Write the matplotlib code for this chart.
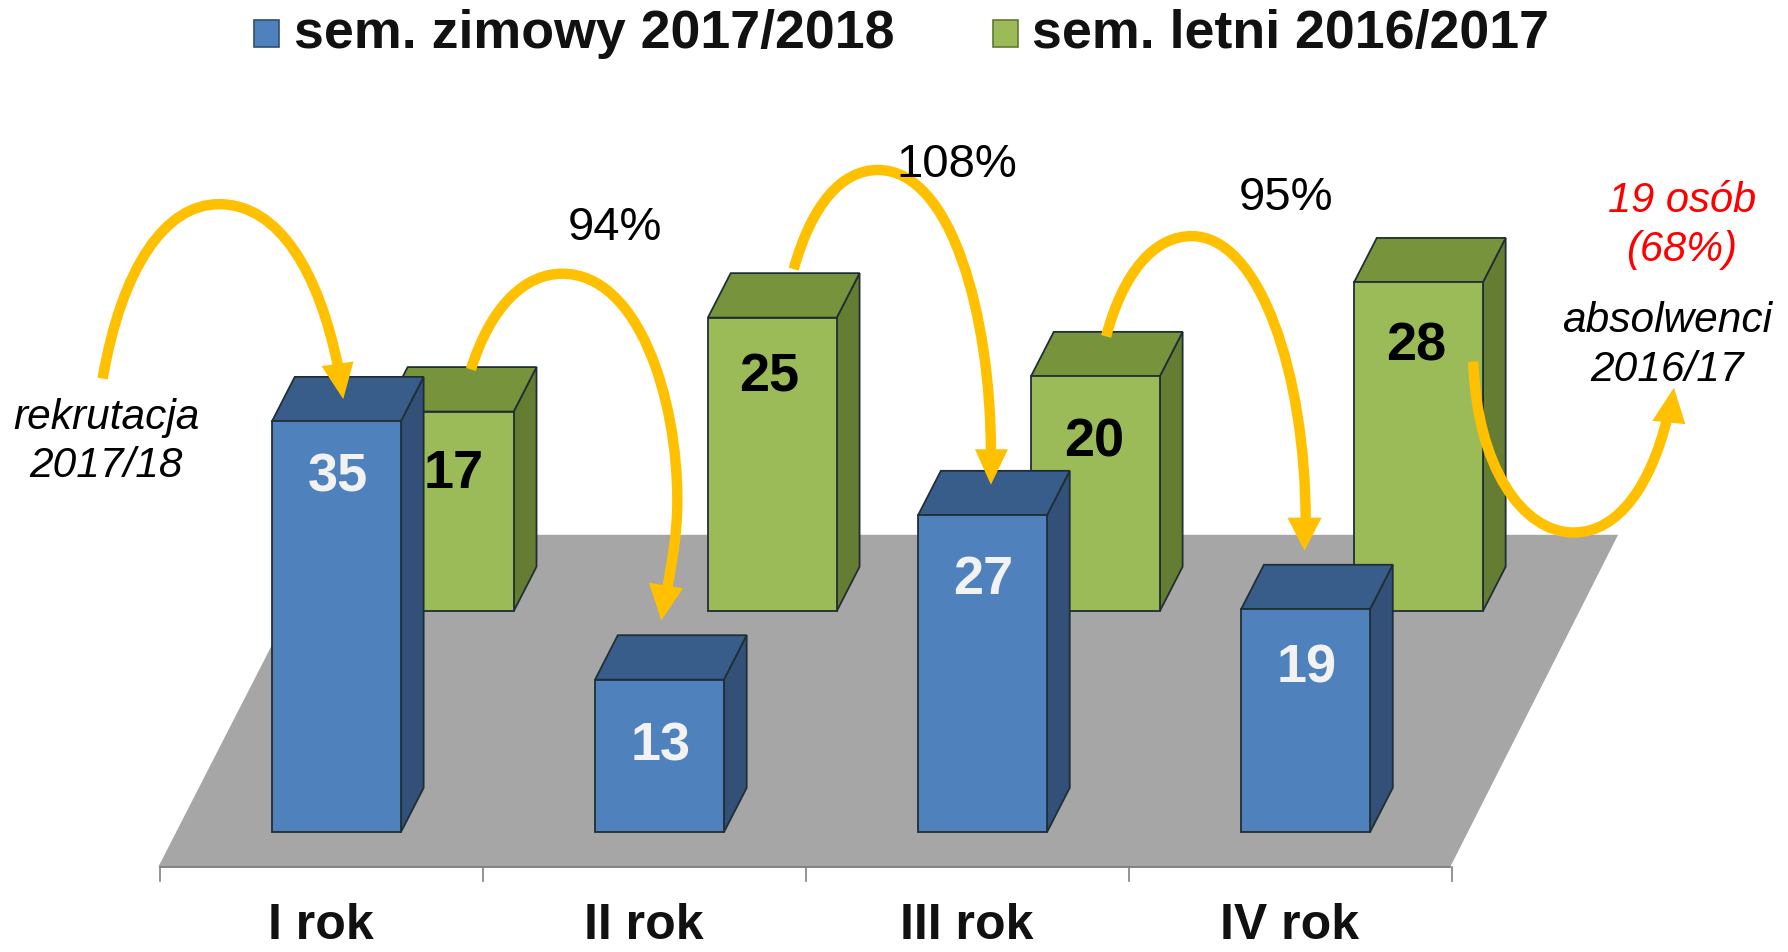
""" 3d style bar chart of students per year, drawn by hand
"""

import matplotlib.pyplot as plt
from matplotlib.patches import PathPatch, Polygon
from matplotlib.path import Path

plt.rcParams['font.family'] = ['Liberation Sans', 'DejaVu Sans']

years = ["I rok", "II rok", "III rok", "IV rok"]
winter = [35, 13, 27, 19]
summer = [17, 25, 20, 28]
winter_name = "sem. zimowy 2017/2018"
summer_name = "sem. letni 2016/2017"
percents = ["94%", "108%", "95%"]

W, H = 1568, 836
PX_PER_UNIT = 10.3
PX_PER_CAT = 283.3
BASE_FRONT = 730
BASE_BACK = 536
X_FRONT = 295
X_BACK = 394
BAR_W = 113
DX, DY = 20, 39

BLUE = ("#4f81bd", "#385d8a", "#325078")
GREEN = ("#9bbb59", "#77933c", "#657d33")
YELLOW = "#ffc000"
EDGE = "#1f2f35"

# label offsets from the bar centre and top, in pixels
winter_dy = [48, 58, 56, 51]
summer_dx = [4, -3, -1, -2]
summer_dy = [54, 52, 57, 55]

fig = plt.figure(figsize=(17.88, 9.53), dpi=100)
ax = fig.add_axes([0, 0, 1, 1])
ax.set_xlim(0, W)
ax.set_ylim(H, 0)
ax.axis("off")

# floor
ax.add_patch(Polygon([(139, 761), (1272, 761), (1419, 470), (288, 470)], fc="#a6a6a6", ec="none", zorder=1))
ax.plot([140, 1272], [761, 761], color="#707070", lw=1.2, zorder=1)
for i in range(5):
    x = 140 + i * PX_PER_CAT
    ax.plot([x, x], [761, 774], color="#808080", lw=1.2, zorder=1)


def bar3d(cx, base, value, cols, zorder):
    left = cx - BAR_W / 2
    right = cx + BAR_W / 2
    top = base - value * PX_PER_UNIT
    ax.add_patch(Polygon([(right, base), (right + DX, base - DY), (right + DX, top - DY), (right, top)],
                         fc=cols[2], ec=EDGE, lw=1.3, zorder=zorder))
    ax.add_patch(Polygon([(left, top), (right, top), (right + DX, top - DY), (left + DX, top - DY)],
                         fc=cols[1], ec=EDGE, lw=1.3, zorder=zorder))
    ax.add_patch(Polygon([(left, base), (right, base), (right, top), (left, top)],
                         fc=cols[0], ec=EDGE, lw=1.3, zorder=zorder))
    return top


for i, v in enumerate(summer):
    cx = X_BACK + i * PX_PER_CAT
    top = bar3d(cx, BASE_BACK + 1, v, GREEN, 2)
    ax.text(cx + summer_dx[i], top + summer_dy[i], str(v), color="black", fontsize=39, fontweight="bold",
            ha="center", va="center", zorder=3)

for i, v in enumerate(winter):
    cx = X_FRONT + i * PX_PER_CAT
    top = bar3d(cx, BASE_FRONT + 1, v, BLUE, 4)
    ax.text(cx + 1, top + winter_dy[i], str(v), color="#f2f2f2", fontsize=39, fontweight="bold",
            ha="center", va="center", zorder=5)

for i, name in enumerate(years):
    ax.text(281 + i * PX_PER_CAT, 812, name, fontsize=36, fontweight="bold", color="#111111",
            ha="center", va="center")


def arrow(pts, head):
    codes = [Path.MOVETO] + [Path.CURVE4] * (len(pts) - 1)
    ax.add_patch(PathPatch(Path(pts, codes), fc="none", ec=YELLOW, lw=7.5, capstyle="butt", zorder=6))
    ax.add_patch(Polygon(head, fc=YELLOW, ec="none", zorder=6))


arrow([(90, 333), (107, 235), (145, 180), (192, 180), (245, 180), (280, 240), (297, 325)],
      [(282, 322), (310, 318), (301, 351)])
arrow([(413, 325), (430, 270), (460, 241), (493, 241), (560, 241), (594, 350), (594, 440), (594, 470), (589, 495), (585, 518)],
      [(569, 512), (599, 517), (580, 545)])
arrow([(696, 237), (712, 180), (738, 150), (770, 150), (835, 150), (869, 280), (869, 398)],
      [(855, 395), (884, 395), (869, 426)])
arrow([(970, 296), (985, 240), (1012, 208), (1045, 208), (1105, 208), (1145, 330), (1145, 458)],
      [(1129, 455), (1159, 455), (1144, 484)])
arrow([(1292, 318), (1295, 410), (1335, 468), (1380, 468), (1420, 468), (1448, 425), (1462, 368)],
      [(1449, 370), (1478, 373), (1468, 341)])

for x, y, s in zip([539, 839, 1128], [200, 145, 174], percents):
    ax.text(x, y, s, fontsize=34, color="black", ha="center", va="center", zorder=7)

ax.text(93, 388, "rekrutacja\n2017/18", fontsize=30.5, style="italic", color="black",
        ha="center", va="center", linespacing=1.27)
ax.text(1475, 198, "19 osób\n(68%)", fontsize=30, style="italic", color="#ff0000",
        ha="center", va="center", linespacing=1.3)
ax.text(1462, 303, "absolwenci\n2016/17", fontsize=30.5, style="italic", color="black",
        ha="center", va="center", linespacing=1.3)

# legend
ax.add_patch(plt.Rectangle((223, 18), 22, 24, fc=BLUE[0], ec="#2f4f6f", lw=1.2))
ax.text(258, 30, winter_name, fontsize=38.7, fontweight="bold", color="#111111", va="center", ha="left")
ax.add_patch(plt.Rectangle((871, 18), 22, 24, fc=GREEN[0], ec="#5f7a30", lw=1.2))
ax.text(905, 30, summer_name, fontsize=38.7, fontweight="bold", color="#111111", va="center", ha="left")

fig.savefig("out.png", dpi=100)
